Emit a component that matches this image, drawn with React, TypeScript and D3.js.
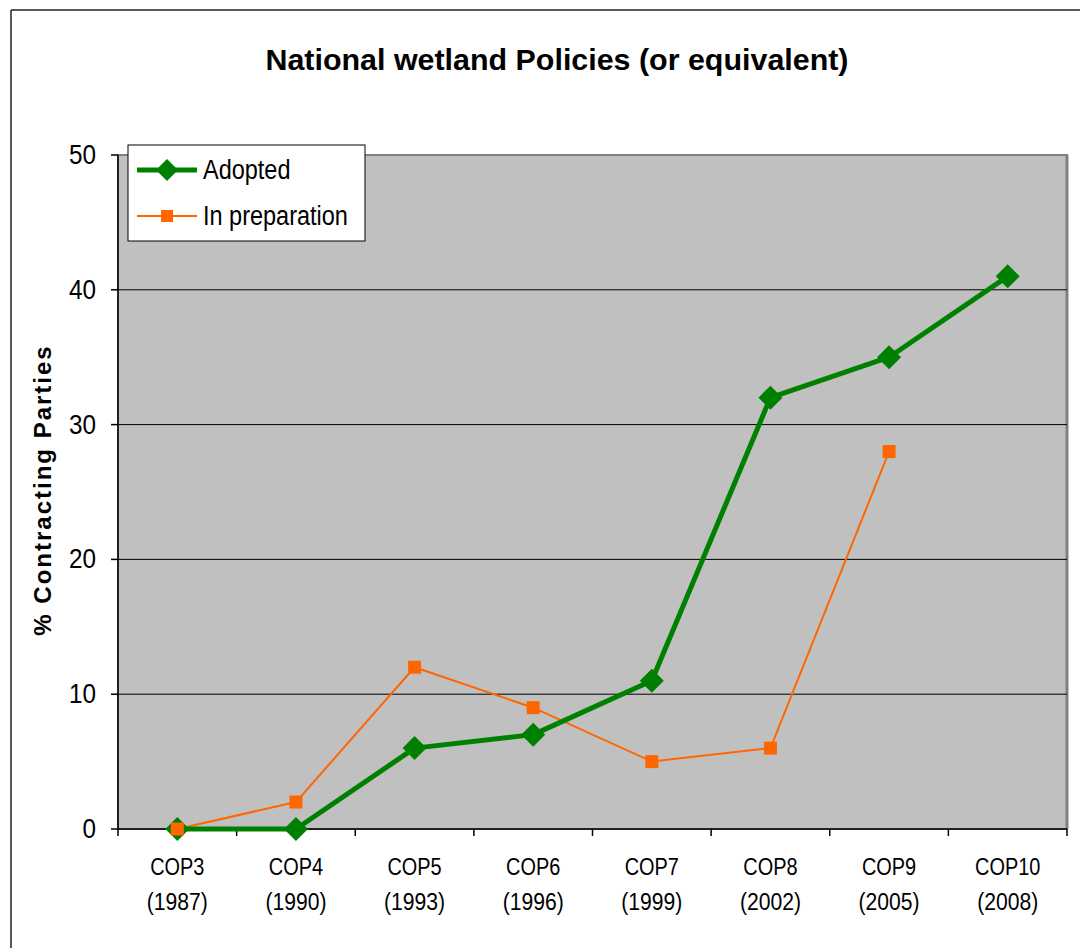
import React from "react";
import * as d3 from "d3";

const categories = ["COP3", "COP4", "COP5", "COP6", "COP7", "COP8", "COP9", "COP10"];
const years = ["(1987)", "(1990)", "(1993)", "(1996)", "(1999)", "(2002)", "(2005)", "(2008)"];
const adopted: (number | null)[] = [0, 0, 6, 7, 11, 32, 35, 41];
const inPreparation: (number | null)[] = [0, 2, 12, 9, 5, 6, 28, null];
const yTicks = [0, 10, 20, 30, 40, 50];

const W = 1080, H = 948;
const left = 118, right = 1067, top = 155, bottom = 829;

export default function App() {
  const x = d3.scaleBand<string>().domain(categories).range([left, right]);
  const y = d3.scaleLinear().domain([0, 50]).range([bottom, top]);
  const cx = (c: string) => (x(c) as number) + x.bandwidth() / 2;

  const line = d3
    .line<[string, number | null]>()
    .defined((d) => d[1] !== null)
    .x((d) => cx(d[0]))
    .y((d) => y(d[1] as number));

  const adoptedPts = categories.map((c, i) => [c, adopted[i]] as [string, number | null]);
  const prepPts = categories.map((c, i) => [c, inPreparation[i]] as [string, number | null]);
  const font = "'Liberation Sans', Arial, sans-serif";
  const green = "#008000";
  const orange = "#FF6600";
  const diamond = (px: number, py: number, r: number) =>
    `M${px},${py - r}L${px + r},${py}L${px},${py + r}L${px - r},${py}Z`;

  return (
    <svg width={W} height={H} style={{ position: "absolute", left: 0, top: 0, background: "#fff" }}>
      <rect x={0} y={0} width={W} height={H} fill="#fff" />
      <line x1={11} y1={10} x2={W} y2={10} stroke="#222" strokeWidth={1.5} />
      <line x1={11} y1={10} x2={11} y2={H} stroke="#222" strokeWidth={1.5} />
      <text x={557} y={70} textAnchor="middle" fontFamily={font} fontWeight="bold" fontSize={30} textLength={583} lengthAdjust="spacingAndGlyphs" fill="#000">
        National wetland Policies (or equivalent)
      </text>
      {/* plot area */}
      <rect x={left} y={top} width={right - left} height={bottom - top} fill="#C0C0C0" stroke="#808080" strokeWidth={2} />
      <line x1={right} x2={right} y1={top} y2={bottom} stroke="#808080" strokeWidth={3} />
      {yTicks.filter((t) => t > 0 && t < 50).map((t) => (
        <line key={t} x1={left} x2={right} y1={y(t)} y2={y(t)} stroke="#000" strokeWidth={1} />
      ))}
      {/* axes */}
      <line x1={left} x2={left} y1={top} y2={bottom} stroke="#000" strokeWidth={1.5} />
      <line x1={left} x2={right} y1={bottom} y2={bottom} stroke="#000" strokeWidth={1.5} />
      {yTicks.map((t) => (
        <g key={t}>
          <line x1={left - 7} x2={left} y1={y(t)} y2={y(t)} stroke="#000" strokeWidth={1.5} />
          <text transform={`translate(${left - 22},${y(t) + 9}) scale(0.9,1)`} textAnchor="end" fontFamily={font} fontSize={27} fill="#000">
            {t}
          </text>
        </g>
      ))}
      {categories.map((c) => (
        <line key={"t" + c} x1={(x(c) as number)} x2={(x(c) as number)} y1={bottom} y2={bottom + 7} stroke="#000" strokeWidth={1.5} />
      ))}
      <line x1={right} x2={right} y1={bottom} y2={bottom + 7} stroke="#000" strokeWidth={1.5} />
      {categories.map((c, i) => (
        <g key={"l" + c} fontFamily={font} fontSize={24} fill="#000" textAnchor="middle">
          <text transform={`translate(${cx(c)},875) scale(0.83,1)`}>{c}</text>
          <text transform={`translate(${cx(c)},910) scale(0.88,1)`}>{years[i]}</text>
        </g>
      ))}
      <text
        transform={`translate(51,${490}) rotate(-90)`}
        textAnchor="middle"
        fontFamily={font}
        fontWeight="bold"
        fontSize={24}
        letterSpacing={2}
        fill="#000"
      >
        % Contracting Parties
      </text>
      {/* series */}
      <path d={line(prepPts) || ""} fill="none" stroke={orange} strokeWidth={2} />
      <path d={line(adoptedPts) || ""} fill="none" stroke={green} strokeWidth={5} strokeLinejoin="round" />
      {adoptedPts.filter((d) => d[1] !== null).map((d) => (
        <path key={"a" + d[0]} d={diamond(cx(d[0]), y(d[1] as number), 12)} fill={green} />
      ))}
      {prepPts.filter((d) => d[1] !== null).map((d) => (
        <rect key={"p" + d[0]} x={cx(d[0]) - 6.5} y={y(d[1] as number) - 6.5} width={13} height={13} fill={orange} />
      ))}
      {/* legend */}
      <rect x={128} y={145} width={237} height={96} fill="#fff" stroke="#000" strokeWidth={1} />
      <line x1={137} x2={197} y1={170} y2={170} stroke={green} strokeWidth={5} />
      <path d={diamond(167, 170, 11)} fill={green} />
      <text transform="translate(203,179) scale(0.87,1)" fontFamily={font} fontSize={27} fill="#000">Adopted</text>
      <line x1={137} x2={197} y1={216} y2={216} stroke={orange} strokeWidth={2} />
      <rect x={161} y={210} width={12} height={12} fill={orange} />
      <text transform="translate(203,225) scale(0.87,1)" fontFamily={font} fontSize={27} fill="#000">In preparation</text>
    </svg>
  );
}
